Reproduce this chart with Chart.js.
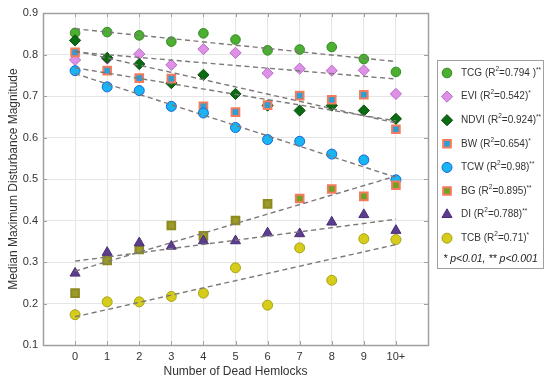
<!DOCTYPE html>
<html>
<head>
<meta charset="utf-8">
<script src="https://cdn.jsdelivr.net/npm/chart.js@4.4.1/dist/chart.umd.min.js"></script>
<style>
  body { margin: 0; background: #fff; }
  #wrap { width: 550px; height: 386px; position: relative; }
</style>
</head>
<body>
<div id="wrap"><canvas id="chart"></canvas></div>
<script>
// number of dead hemlocks (x categories)
const categories = ['0', '1', '2', '3', '4', '5', '6', '7', '8', '9', '10+'];

// median maximum disturbance magnitude per index
const tcg  = [0.852, 0.854, 0.846, 0.831, 0.851, 0.836, 0.810, 0.812, 0.818, 0.789, 0.758];
const evi  = [0.787, 0.790, 0.801, 0.775, 0.813, 0.804, 0.755, 0.766, 0.761, 0.762, 0.705];
const ndvi = [0.834, 0.792, 0.777, 0.731, 0.751, 0.705, 0.677, 0.665, 0.677, 0.665, 0.645];
const bw   = [0.805, 0.761, 0.743, 0.742, 0.675, 0.661, 0.678, 0.701, 0.691, 0.703, 0.620];
const tcw  = [0.761, 0.722, 0.713, 0.675, 0.659, 0.624, 0.595, 0.591, 0.560, 0.546, 0.498];
const bg   = [0.225, 0.304, 0.330, 0.388, 0.363, 0.400, 0.440, 0.453, 0.476, 0.458, 0.485];
const di   = [0.273, 0.323, 0.346, 0.338, 0.351, 0.351, 0.370, 0.368, 0.396, 0.414, 0.376];
const tcb  = [0.173, 0.204, 0.204, 0.217, 0.225, 0.286, 0.196, 0.334, 0.256, 0.356, 0.354];

// fitted trend line value at "0" and at "10+"
const tcgFit  = [0.862, 0.783];
const eviFit  = [0.806, 0.741];
const ndviFit = [0.809, 0.635];
const bwFit   = [0.768, 0.640];
const tcwFit  = [0.754, 0.504];
const bgFit   = [0.278, 0.507];
const diFit   = [0.302, 0.403];
const tcbFit  = [0.168, 0.342];

// legend text
const names = ['TCG', 'EVI', 'NDVI', 'BW', 'TCW', 'BG', 'DI', 'TCB'];
const r2    = ['0.794 ', '0.542', '0.924', '0.654', '0.98', '0.895', '0.788', '0.71'];
const sig   = ['**', '*', '**', '*', '**', '**', '**', '*'];
const footnote = '* p<0.01, ** p<0.001';

const values = [tcg, evi, ndvi, bw, tcw, bg, di, tcb];
const fits = [tcgFit, eviFit, ndviFit, bwFit, tcwFit, bgFit, diFit, tcbFit];

const orange = '#f47c5c';
const styles = [
  { pointStyle: 'circle',   radius: 4.8, bg: '#4caf32', border: '#2f8a1e', bw: 1 },
  { pointStyle: 'rectRot',  radius: 5.6, bg: '#dd90e6', border: '#b96cca', bw: 1 },
  { pointStyle: 'rectRot',  radius: 5.6, bg: '#0b6b12', border: '#0a4d0c', bw: 1 },
  { pointStyle: 'rect',     radius: 5.4, bg: '#2d9fd6', border: orange,    bw: 2 },
  { pointStyle: 'circle',   radius: 5.0, bg: '#17b6f2', border: '#1d64d8', bw: 1 },
  { pointStyle: 'rect',     radius: 5.4, bg: '#6fa224', border: orange,    bw: 2 },
  { pointStyle: 'triangle', radius: 5.8, bg: '#5b3d8c', border: '#4a2f78', bw: 1 },
  { pointStyle: 'circle',   radius: 5.0, bg: '#d6cc1c', border: '#a9a214', bw: 1 }
];

const FONT = '"Liberation Sans", Arial, sans-serif';
const textColor = '#333333';

const datasets = [];
// trend lines (drawn on top)
fits.forEach((f, i) => {
  datasets.push({
    type: 'line',
    data: [{ x: 0, y: f[0] }, { x: categories.length - 1, y: f[1] }],
    borderColor: '#7d7878',
    borderWidth: 1.4,
    borderDash: [5, 3.5],
    pointRadius: 0,
    fill: false,
    order: 0
  });
});
// markers, later series drawn over earlier ones
values.forEach((arr, i) => {
  const s = styles[i];
  let bgCol = s.bg, bdCol = s.border;
  if (names[i] === 'BG') {
    bgCol = arr.map((v, j) => j < 7 ? '#9c9a28' : s.bg);
    bdCol = arr.map((v, j) => j < 7 ? '#8c8a20' : s.border);
  }
  datasets.push({
    type: 'scatter',
    label: names[i],
    data: arr.map((v, j) => ({ x: j, y: v })),
    pointStyle: s.pointStyle,
    pointRadius: s.radius,
    pointHoverRadius: s.radius,
    pointBackgroundColor: bgCol,
    pointBorderColor: bdCol,
    pointBorderWidth: s.bw,
    showLine: false,
    order: 20 - i
  });
});

// box around the plot + inward ticks, and the legend box
const boxPlugin = {
  id: 'box',
  beforeDatasetsDraw(chart) {
    const { ctx, chartArea: a, scales } = chart;
    ctx.save();
    ctx.strokeStyle = '#a0a0a0';
    ctx.lineWidth = 1;
    ctx.beginPath();
    categories.forEach((c, i) => {
      const x = Math.round(scales.x.getPixelForValue(i)) + 0.5;
      ctx.moveTo(x, a.bottom); ctx.lineTo(x, a.bottom - 4);
      ctx.moveTo(x, a.top); ctx.lineTo(x, a.top + 4);
    });
    for (let k = 1; k <= 9; k++) {
      const y = Math.round(scales.y.getPixelForValue(k / 10)) + 0.5;
      ctx.moveTo(a.left, y); ctx.lineTo(a.left + 4, y);
      ctx.moveTo(a.right, y); ctx.lineTo(a.right - 4, y);
    }
    ctx.stroke();
    ctx.lineWidth = 1.5;
    ctx.strokeRect(Math.round(a.left) + 0.5, Math.round(a.top) + 0.5,
                   Math.round(a.right - a.left), Math.round(a.bottom - a.top));
    ctx.restore();
  },
  afterDraw(chart) {
    const ctx = chart.ctx;
    const bx = 437.5, by = 60.5, bw = 106, bh = 208;
    ctx.save();
    ctx.fillStyle = '#fff';
    ctx.fillRect(bx, by, bw, bh);
    ctx.strokeStyle = '#a0a0a0';
    ctx.lineWidth = 1;
    ctx.strokeRect(bx, by, bw, bh);
    names.forEach((n, i) => {
      const y = 73 + i * 23.6;
      const s = styles[i];
      ctx.fillStyle = s.bg;
      ctx.strokeStyle = s.border;
      ctx.lineWidth = s.bw;
      Chart.helpers.drawPoint(ctx, { pointStyle: s.pointStyle, radius: s.radius, borderWidth: s.bw, rotation: 0 }, 447, y);
      // label with superscripts
      ctx.fillStyle = textColor;
      ctx.textBaseline = 'middle';
      ctx.textAlign = 'left';
      let x = 461;
      const big = '10px ' + FONT, small = '6.5px ' + FONT;
      const parts = [[n + ' (R', big, 0], ['2', small, -4], ['=' + r2[i] + ')', big, 0], [sig[i], small, -3]];
      parts.forEach(p => {
        ctx.font = p[1];
        ctx.fillText(p[0], x, y + p[2]);
        x += ctx.measureText(p[0]).width;
      });
    });
    ctx.font = 'italic 10.5px ' + FONT;
    ctx.fillStyle = '#222';
    ctx.textAlign = 'center';
    ctx.fillText(footnote, bx + bw / 2, 259);
    ctx.restore();
  }
};

new Chart(document.getElementById('chart'), {
  data: { datasets: datasets },
  options: {
    responsive: true,
    maintainAspectRatio: false,
    animation: false,
    layout: { padding: { top: 13, right: 122, left: 0, bottom: 0 } },
    plugins: { legend: { display: false }, tooltip: { enabled: false } },
    scales: {
      x: {
        type: 'linear',
        min: -1,
        max: 11,
        afterBuildTicks: scale => { scale.ticks = categories.map((c, i) => ({ value: i })); },
        afterFit: scale => { scale.height = 41; },
        ticks: {
          autoSkip: false, maxRotation: 0, padding: 5,
          color: textColor, font: { family: FONT, size: 11 },
          callback: v => categories[v]
        },
        grid: { color: '#e6e6e6', drawTicks: false },
        border: { display: false },
        title: {
          display: true, text: 'Number of Dead Hemlocks',
          color: textColor, font: { family: FONT, size: 12 },
          padding: { top: 0, bottom: 7 }
        }
      },
      y: {
        min: 0.1,
        max: 0.9,
        afterFit: scale => { scale.width = 43; },
        ticks: {
          stepSize: 0.1, padding: 5,
          color: textColor, font: { family: FONT, size: 11 },
          callback: v => v.toFixed(1)
        },
        grid: { color: '#e6e6e6', drawTicks: false },
        border: { display: false },
        title: {
          display: true, text: 'Median Maximum Disturbance Magnitude',
          color: textColor, font: { family: FONT, size: 12 },
          padding: { top: 6, bottom: 0 }
        }
      }
    }
  },
  plugins: [boxPlugin]
});
</script>
</body>
</html>
